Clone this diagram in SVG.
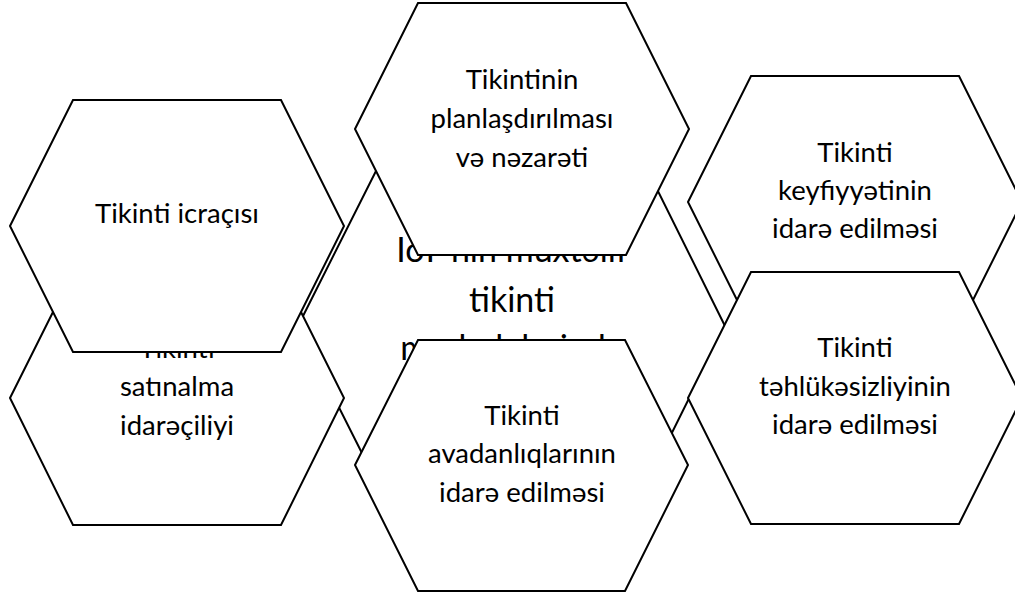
<svg xmlns="http://www.w3.org/2000/svg" width="1015" height="594" viewBox="0 0 1015 594">
<style>
.hex{fill:#fff;stroke:#000;stroke-width:2;stroke-linejoin:miter}
.t{font-family:Lato,"Noto Sans",sans-serif;font-size:27.5px;fill:#000;text-anchor:middle}
.big{font-family:Lato,"Noto Sans",sans-serif;font-size:34px;fill:#000;text-anchor:middle}
</style>
<rect width="1015" height="594" fill="#fff"/>
<g id="center">
<polygon class="hex" points="298,326 379,165 645,165 725,326 645,487 379,487"/>
<text class="big"><tspan x="512" y="262">IoT-nin müxtəlif</tspan><tspan x="512" y="312">tikinti</tspan><tspan x="512" y="360">mərhələlərində</tspan></text>
</g>
<g id="quality">
<polygon class="hex" points="688,202 751,76 959,76 1022,202 959,328 751,328"/>
<text class="t"><tspan x="855" y="162">Tikinti</tspan><tspan x="855" y="200">keyfiyyətinin</tspan><tspan x="855" y="238">idarə edilməsi</tspan></text>
</g>
<g id="safety">
<polygon class="hex" points="688,398 751,272 959,272 1022,398 959,524 751,524"/>
<text class="t"><tspan x="855" y="357">Tikinti</tspan><tspan x="855" y="396">təhlükəsizliyinin</tspan><tspan x="855" y="434">idarə edilməsi</tspan></text>
</g>
<g id="procurement">
<polygon class="hex" points="10,398 73,272 281,272 344,398 281,525 73,525"/>
<text class="t"><tspan x="177" y="358">Tikinti</tspan><tspan x="177" y="396">satınalma</tspan><tspan x="177" y="435">idarəçiliyi</tspan></text>
</g>
<g id="executor">
<polygon class="hex" points="10,226 73,100 281,100 344,226 281,352 73,352"/>
<text class="t" x="177" y="223">Tikinti icraçısı</text>
</g>
<g id="planning">
<polygon class="hex" points="355,129 418,3 626,3 689,129 626,255 418,255"/>
<text class="t"><tspan x="522" y="89">Tikintinin</tspan><tspan x="522" y="128">planlaşdırılması</tspan><tspan x="522" y="167">və nəzarəti</tspan></text>
</g>
<g id="equipment">
<polygon class="hex" points="355,465 418,340 625,340 688,465 625,591 418,591"/>
<text class="t"><tspan x="522" y="425">Tikinti</tspan><tspan x="522" y="463">avadanlıqlarının</tspan><tspan x="522" y="502">idarə edilməsi</tspan></text>
</g>
</svg>
